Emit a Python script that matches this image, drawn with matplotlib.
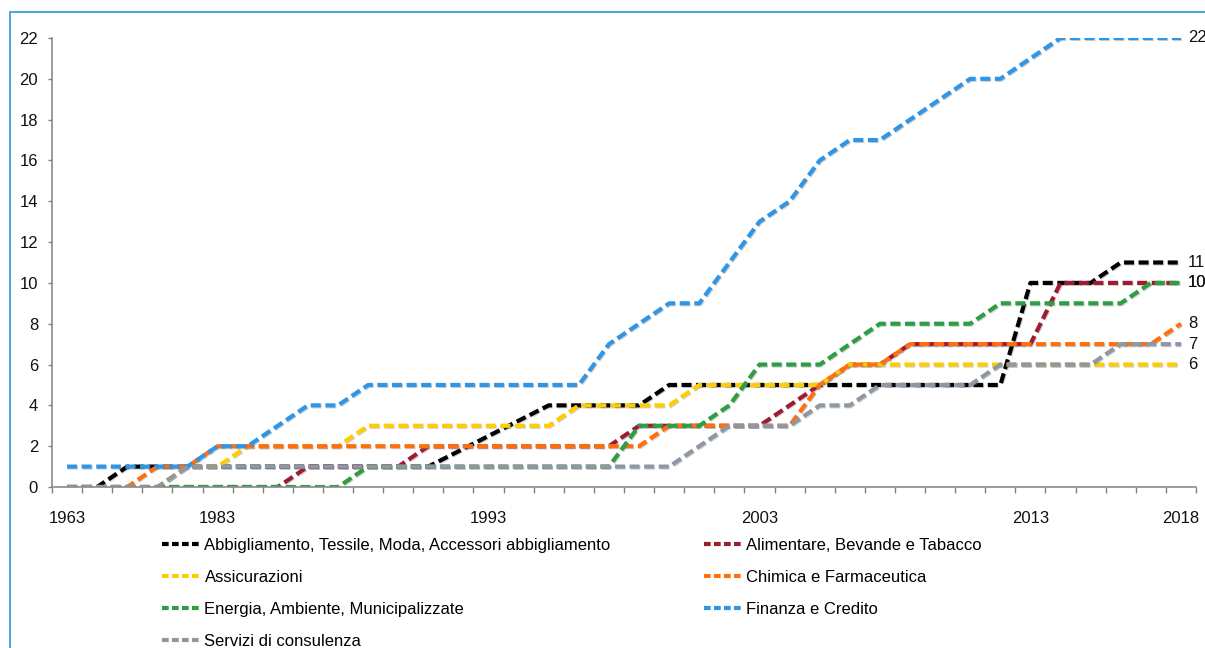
import matplotlib.pyplot as plt
import matplotlib.patheffects as pe
from matplotlib.lines import Line2D
from matplotlib.patches import Rectangle
import numpy as np

# category labels (only some shown on the axis)
xlabels = ["1963", "", "", "", "", "1983", "", "", "", "", "", "", "", "",
           "1993", "", "", "", "", "", "", "", "", "2003", "", "", "", "",
           "", "", "", "", "2013", "", "", "", "", "2018"]

abbigliamento = [0, 0, 1, 1, 1, 1, 1, 1, 1, 1, 1, 1, 1, None, None, None, 4, 4, 4, 4,
                 5, 5, 5, 5, 5, 5, 5, 5, 5, 5, 5, 5, 10, 10, 10, 11, 11, 11]
alimentare = [0, 0, 0, 0, 0, 0, 0, 0, 1, 1, 1, 1, 2, 2, 2, 2, 2, 2, 2, 3,
              3, 3, 3, 3, 4, 5, 6, 6, 7, 7, 7, 7, 7, 10, 10, 10, 10, 10]
assicurazioni = [0, 0, 0, 0, 1, 1, 2, 2, 2, 2, 3, 3, 3, 3, 3, 3, 3, 4, 4, 4,
                 4, 5, 5, 5, 5, 5, 6, 6, 6, 6, 6, 6, 6, 6, 6, 6, 6, 6]
chimica = [0, 0, 0, 1, 1, 2, 2, 2, 2, 2, 2, 2, 2, 2, 2, 2, 2, 2, 2, 2,
           3, 3, 3, 3, 3, 5, 6, 6, 7, 7, 7, 7, 7, 7, 7, 7, 7, 8]
energia = [0, 0, 0, 0, 0, 0, 0, 0, 0, 0, 1, 1, 1, 1, 1, 1, 1, 1, 1, 3,
           3, 3, 4, 6, 6, 6, 7, 8, 8, 8, 8, 9, 9, 9, 9, 9, 10, 10]
finanza = [1, 1, 1, 1, 1, 2, 2, 3, 4, 4, 5, 5, 5, 5, 5, 5, 5, 5, 7, 8,
           9, 9, 11, 13, 14, 16, 17, 17, 18, 19, 20, 20, 21, 22, 22, 22, 22, 22]
servizi = [0, 0, 0, 0, 1, 1, 1, 1, 1, 1, 1, 1, 1, 1, 1, 1, 1, 1, 1, 1,
           1, 2, 3, 3, 3, 4, 4, 5, 5, 5, 5, 6, 6, 6, 6, 7, 7, 7]

names = ["Abbigliamento, Tessile, Moda, Accessori abbigliamento",
         "Alimentare, Bevande e Tabacco",
         "Assicurazioni",
         "Chimica e Farmaceutica",
         "Energia, Ambiente, Municipalizzate",
         "Finanza e Credito",
         "Servizi di consulenza"]
series = [abbigliamento, alimentare, assicurazioni, chimica, energia, finanza, servizi]
colors = ["#000000", "#9E1B32", "#FFCC00", "#FF6F0F", "#2E9E44", "#2F95E6", "#8E97A4"]

plt.rcParams['font.family'] = ['Liberation Sans Narrow', 'Liberation Sans', 'DejaVu Sans']

fig = plt.figure(figsize=(12.05, 6.48), dpi=100)
ax = fig.add_axes([52 / 1205, 161 / 648, 1144 / 1205, 449 / 648])

x = np.arange(len(xlabels))
shadow = [pe.SimpleLineShadow(offset=(0.7, -0.7), shadow_color="#777777", alpha=0.35), pe.Normal()]
handles = []
for name, vals, col in zip(names, series, colors):
    v = np.array([np.nan if a is None else a for a in vals], dtype=float)
    ok = ~np.isnan(v)
    ax.plot(x[ok], v[ok], color=col, lw=3, dashes=(2.4, 1.1), dash_capstyle="butt",
            path_effects=shadow)
    h = Line2D([], [], color=col, lw=3, dashes=(1.6, 0.8), dash_capstyle="butt")
    handles.append(h)
    # value at the last point
    ax.annotate(str(vals[-1]), (x[-1], vals[-1]), xytext=(5, 0), textcoords="offset points",
                va="center", ha="left", fontsize=12, color="#111111")

ax.set_xlim(-0.5, len(xlabels) - 0.5)
ax.set_ylim(0, 22)
ax.set_yticks(np.arange(0, 23, 2))
ax.tick_params(axis="y", length=3, width=1, color="#808080", pad=7, labelsize=12,
               labelcolor="#111111")

ax.set_xticks(np.arange(-0.5, len(xlabels), 1))
ax.set_xticklabels([])
lab_pos = [i for i, s in enumerate(xlabels) if s]
ax.set_xticks(lab_pos, [xlabels[i] for i in lab_pos], minor=True)
ax.tick_params(axis="x", which="major", length=4, width=1, color="#808080", direction="out")
ax.tick_params(axis="x", which="minor", length=0, pad=17, labelsize=12, labelcolor="#111111")

for s in ["top", "right"]:
    ax.spines[s].set_visible(False)
for s in ["left", "bottom"]:
    ax.spines[s].set_color("#8a8a8a")
    ax.spines[s].set_linewidth(1.2)

order1 = [0, 2, 4, 6]
order2 = [1, 3, 5]
leg_kw = dict(frameon=False, fontsize=12, handlelength=2.2, handletextpad=0.35,
              labelspacing=1.02, borderpad=0, borderaxespad=0, loc="upper left")
fig.legend([handles[i] for i in order1], [names[i] for i in order1],
           bbox_to_anchor=(162 / 1205, 1 - 538 / 648), **leg_kw)
fig.legend([handles[i] for i in order2], [names[i] for i in order2],
           bbox_to_anchor=(704 / 1205, 1 - 538 / 648), **leg_kw)

fig.patches.append(Rectangle((9.5 / 1205, -0.1), 1.2, 0.1 + (648 - 12) / 648,
                             transform=fig.transFigure, fill=False,
                             edgecolor="#3AA0DC", lw=1.3))

fig.savefig("out.png", dpi=100)
